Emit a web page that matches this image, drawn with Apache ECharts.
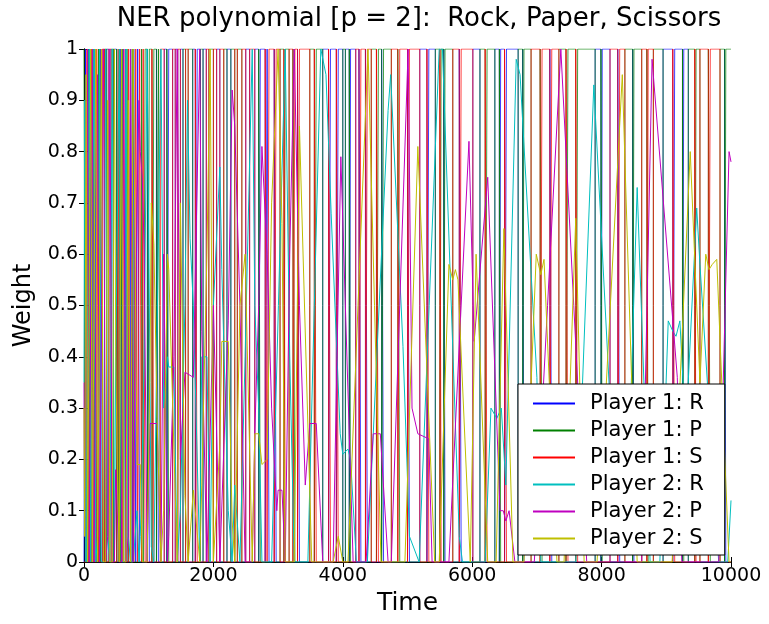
<!DOCTYPE html>
<html>
<head>
<meta charset="utf-8">
<script src="https://cdn.jsdelivr.net/npm/echarts@6/dist/echarts.min.js"></script>
<style>
  html, body { margin: 0; padding: 0; background: #fff; }
  #main { width: 769px; height: 624px; }
</style>
</head>
<body>
<div id="main"></div>
<script>
// axis ticks
var timeTicks = [0, 2000, 4000, 6000, 8000, 10000];
var weightTicks = [0, 0.1, 0.2, 0.3, 0.4, 0.5, 0.6, 0.7, 0.8, 0.9, 1];
var seriesNames = ['Player 1: R', 'Player 1: P', 'Player 1: S', 'Player 2: R', 'Player 2: P', 'Player 2: S'];

// player 1 plays a pure strategy, switching at these times
var p1SwitchTime = [0, 22, 45, 68, 93, 117, 142, 170, 197, 226, 255, 285, 318, 351, 384, 419, 454,
  505, 530, 548, 568, 590, 615, 640, 665, 690, 718, 745, 770, 800, 830, 860, 890, 915, 945, 980,
  1010, 1050, 1080, 1120, 1150, 1180, 1240, 1280, 1310, 1370, 1410, 1450, 1490, 1530, 1570, 1610,
  1680, 1720, 1750, 1800, 1840, 1890, 1930, 2000, 2050, 2100, 2160, 2210, 2270, 2330, 2370, 2440,
  2500, 2560, 2640, 2700, 2725, 2800, 2830, 2860, 2940, 2970, 3030, 3090, 3110, 3170, 3230, 3260,
  3300, 3330, 3490, 3560, 3590, 3690, 3780, 3810, 3900, 3930, 4000, 4040, 4100, 4120, 4200, 4250,
  4280, 4350, 4380, 4440, 4520, 4550, 4600, 4630, 4750, 4850, 4880, 5000, 5030, 5190, 5300, 5330,
  5430, 5500, 5520, 5560, 5580, 5700, 5800, 5830, 6010, 6120, 6200, 6230, 6350, 6420, 6440, 6500,
  6530, 6710, 6780, 6800, 6910, 7050, 7080, 7200, 7230, 7340, 7450, 7480, 7600, 7630, 7900, 7990,
  8010, 8130, 8250, 8280, 8360, 8480, 8500, 8620, 8700, 8720, 8800, 8950, 9100, 9130, 9250, 9270,
  9340, 9440, 9460, 9520, 9650, 9680, 9830, 9900, 9920];
var p1Action = ['P', 'R', 'S', 'P', 'R', 'S', 'P', 'R', 'S', 'P', 'R', 'S', 'P', 'R', 'S', 'P', 'R',
  'P', 'S', 'P', 'R', 'P', 'S', 'R', 'P', 'S', 'R', 'P', 'R', 'S', 'R', 'S', 'P', 'S', 'P', 'R',
  'P', 'S', 'P', 'R', 'P', 'S', 'R', 'P', 'R', 'S', 'R', 'S', 'R', 'P', 'S', 'P',
  'R', 'S', 'R', 'P', 'R', 'S', 'P', 'S', 'R', 'S', 'P', 'R', 'P', 'S', 'P', 'S',
  'R', 'S', 'R', 'P', 'R', 'S', 'R', 'S', 'R', 'S', 'P', 'S', 'P', 'S', 'P', 'S',
  'R', 'S', 'P', 'S', 'P', 'R', 'S', 'R', 'S', 'R', 'P', 'R', 'P', 'R', 'S', 'R',
  'S', 'R', 'S', 'P', 'S', 'P', 'R', 'P', 'S', 'P', 'S', 'R', 'S', 'R', 'S', 'R',
  'P', 'S', 'P', 'R', 'P', 'S', 'R', 'S', 'R', 'P', 'S', 'P', 'R', 'P', 'R', 'S',
  'R', 'P', 'R', 'P', 'S', 'P', 'S', 'R', 'S', 'P', 'S', 'P', 'S', 'P', 'R', 'P',
  'R', 'S', 'R', 'S', 'P', 'R', 'P', 'S', 'P', 'S', 'P', 'R', 'S', 'R', 'P', 'R',
  'P', 'S', 'P', 'S', 'P', 'S', 'P', 'R', 'P'];

// player 2 mixed weights, [time, weight] at turning points
var p2Rock = [[0,.35],[10,.9],[32,0],[55,0],[80,1],[104,0],[128,0],[155,1],[182,0],[210,.05],[240,1],[268,0],[300,0],
  [334,1],[366,.05],[400,0],[436,1],[470,0],[490,.4],[510,.6],[545,1],[578,0],[612,0],[648,1],[685,.05],[720,0],[760,0],
  [820,.1],[850,0],[870,.05],[900,.2],[930,.39],[975,1],[1020,.35],[1040,.03],[1080,0],[1130,.45],[1190,1],[1230,.3],
  [1290,.4],[1310,.38],[1390,.38],[1440,0],[1490,.1],[1560,.5],[1600,.9],[1640,.63],[1690,.5],[1790,0],[1820,.4],[1900,.4],
  [1950,0],[2000,.5],[2100,.77],[2130,.57],[2230,.1],[2290,0],[2330,.15],[2410,0],[2490,.4],[2600,1],[2640,.5],[2700,.3],
  [2750,0],[2900,0],[3110,1],[3180,.4],[3250,0],[3460,0],[3660,1],[3740,.95],[3820,.68],[3960,.25],[4000,.21],[4080,.22],
  [4120,.2],[4210,0],[4380,0],[4700,.88],[4740,.95],[4930,.42],[5030,.05],[5180,0],[5490,1],[5540,1],[5800,.05],[5850,0],
  [6200,0],[6290,.3],[6380,.28],[6450,.3],[6520,.15],[6680,.98],[6740,.95],[7000,.36],[7060,0],[7600,0],[7880,.93],
  [8240,.04],[8400,.1],[8550,.73],[8750,0],[8900,0],[9030,.47],[9100,.45],[9150,.44],[9210,.47],[9300,.25],[9470,.69],
  [9520,.58],[9810,0],[9950,0],[10000,.12]];
var p2Paper = [[0,.35],[10,.05],[32,.05],[55,1],[80,0],[104,0],[128,1],[155,0],[182,0],[210,.95],[240,0],[268,0],[300,1],
  [334,0],[366,.05],[400,1],[436,0],[470,0],[490,.18],[510,.18],[545,0],[578,0],[612,1],[648,0],[685,.05],[720,1],[760,0],
  [820,.7],[850,.9],[870,.8],[900,.75],[930,.61],[975,0],[1020,.27],[1130,.27],[1190,0],[1230,.6],[1290,0],[1310,.05],
  [1390,.4],[1440,1],[1490,.2],[1560,.37],[1690,.36],[1790,1],[1820,.45],[1900,0],[2000,.5],[2100,0],[2230,.47],[2290,.92],
  [2330,.85],[2410,.5],[2490,0],[2600,0],[2640,.25],[2700,.5],[2750,.81],[2830,.6],[2900,.3],[2980,.1],[3000,.14],[3060,.14],
  [3110,0],[3180,.6],[3250,1],[3330,.5],[3420,.15],[3490,.27],[3590,.27],[3690,0],[3850,0],[3970,.79],[4160,0],[4360,0],
  [4470,.25],[4580,.25],[4700,0],[4750,0],[5010,1],[5070,.3],[5160,.25],[5330,.24],[5380,0],[5640,0],[5950,.82],[6030,.43],
  [6240,.75],[6430,.1],[6480,.1],[6520,.08],[6570,.1],[6660,0],[6960,0],[7370,1],[7770,0],[8620,0],[8780,.98],[9170,.36],
  [9240,0],[9810,0],[9970,.8],[10000,.78]];
var p2Scissors = [[0,.3],[10,.05],[32,.95],[55,0],[80,0],[104,1],[128,0],[155,0],[182,1],[210,0],[240,0],[268,1],[300,0],
  [334,0],[366,.9],[400,0],[436,0],[470,1],[490,.42],[510,.22],[545,0],[578,1],[612,0],[648,0],[685,.9],[720,0],[760,1],
  [820,.19],[870,.19],[900,0],[975,0],[1020,.38],[1040,.7],[1080,.62],[1130,.28],[1190,0],[1230,.1],[1290,.6],[1310,.57],
  [1390,.22],[1440,0],[1490,.7],[1560,.13],[1610,0],[1690,.14],[1790,0],[1820,.15],[1900,.6],[1950,1],[2000,0],[2100,.23],
  [2130,.43],[2230,.43],[2290,.08],[2330,0],[2410,.5],[2490,.6],[2600,0],[2640,.25],[2700,.25],[2750,.19],[2830,.2],[2900,.7],
  [3000,1],[3060,.66],[3110,0],[3250,0],[3330,.85],[3520,0],[3850,0],[3930,.05],[4000,0],[4080,0],[4390,1],[4590,0],[4960,0],
  [5160,.81],[5420,0],[5490,0],[5640,.58],[5700,.55],[5740,.57],[5780,.55],[5970,0],[6060,.6],[6240,0],[6370,0],[6490,.65],
  [6630,0],[6800,0],[6990,.6],[7060,.56],[7110,.59],[7310,0],[7420,0],[7600,.67],[7730,0],[7930,0],[8320,.95],[8550,0],
  [9090,0],[9370,.8],[9520,.35],[9610,.6],[9660,.57],[9710,.58],[9780,.59],[9970,0],[10000,0]];

var colors = ['#0000ff', '#008000', '#ff0000', '#00bfbf', '#bf00bf', '#bfbf00'];
var fontName = 'DejaVu Sans';

// step data for one of player 1's actions
function p1Data(act) {
  var d = [];
  for (var i = 0; i < p1SwitchTime.length; i++) {
    d.push([p1SwitchTime[i], p1Action[i] === act ? 1 : 0]);
  }
  d.push([10000, p1Action[p1Action.length - 1] === act ? 1 : 0]);
  return d;
}

var chart = echarts.init(document.getElementById('main'));

function lineSeries(name, data, color, step, opacity) {
  return {
    name: name,
    type: 'line',
    data: data,
    step: step,
    symbol: 'none',
    itemStyle: { color: color },
    lineStyle: { width: 1, color: color, opacity: opacity },
    emphasis: { disabled: true }
  };
}

var tickStyle = { inside: true, length: 5, lineStyle: { color: '#000' } };

chart.setOption({
  animation: false,
  graphic: [{
    type: 'text',
    x: 419, y: 6,
    style: {
      text: 'NER polynomial [p = 2]:  Rock, Paper, Scissors',
      font: '26px "' + fontName + '"',
      fill: '#000',
      textAlign: 'center'
    }
  }],
  grid: { left: 84, right: 38, top: 49, bottom: 62 },
  legend: {
    orient: 'vertical',
    left: 518, top: 384,
    data: seriesNames,
    icon: 'rect',
    itemWidth: 42, itemHeight: 2,
    itemGap: 6,
    padding: [9, 21, 6, 15],
    backgroundColor: '#fff',
    borderColor: '#000', borderWidth: 1,
    textStyle: { fontFamily: fontName, fontSize: 21, color: '#000', lineHeight: 20, padding: [0, 0, 0, 10] },
    selectedMode: false
  },
  xAxis: [{
    type: 'value', min: 0, max: 10000, interval: 2000,
    name: 'Time', nameLocation: 'middle', nameGap: 24,
    nameTextStyle: { fontFamily: fontName, fontSize: 25, color: '#000' },
    axisLine: { lineStyle: { color: '#000' } },
    axisTick: tickStyle,
    axisLabel: { fontFamily: fontName, fontSize: 19, color: '#000', margin: 5,
      formatter: function (v) { return timeTicks.indexOf(v) >= 0 ? String(v) : ''; } },
    splitLine: { show: false }
  }, {
    type: 'value', position: 'top', min: 0, max: 10000, interval: 2000,
    axisLine: { lineStyle: { color: '#000' } },
    axisTick: tickStyle, axisLabel: { show: false }, splitLine: { show: false }
  }],
  yAxis: [{
    type: 'value', min: 0, max: 1, interval: 0.1,
    name: 'Weight', nameLocation: 'middle', nameGap: 48, nameRotate: 90,
    nameTextStyle: { fontFamily: fontName, fontSize: 24, color: '#000' },
    axisLine: { show: true, lineStyle: { color: '#000' } },
    axisTick: Object.assign({ show: true }, tickStyle),
    axisLabel: { fontFamily: fontName, fontSize: 19, color: '#000', margin: 6,
      formatter: function (v) { return String(weightTicks[Math.round(v * 10)]); } },
    splitLine: { show: false }
  }, {
    type: 'value', position: 'right', min: 0, max: 1, interval: 0.1,
    axisLine: { show: true, lineStyle: { color: '#000' } },
    axisTick: Object.assign({ show: true }, tickStyle), axisLabel: { show: false }, splitLine: { show: false }
  }],
  series: [
    lineSeries(seriesNames[0], p1Data('R'), colors[0], 'end', 0.75),
    lineSeries(seriesNames[1], p1Data('P'), colors[1], 'end', 0.75),
    lineSeries(seriesNames[2], p1Data('S'), colors[2], 'end', 0.75),
    lineSeries(seriesNames[3], p2Rock, colors[3], false, 1),
    lineSeries(seriesNames[4], p2Paper, colors[4], false, 1),
    lineSeries(seriesNames[5], p2Scissors, colors[5], false, 1)
  ]
});
</script>
</body>
</html>
